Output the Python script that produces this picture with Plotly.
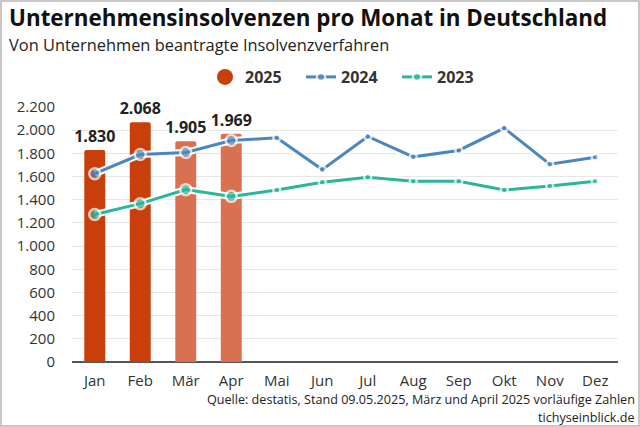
import plotly.graph_objects as go

months = ["Jan", "Feb", "Mär", "Apr", "Mai", "Jun", "Jul", "Aug", "Sep", "Okt", "Nov", "Dez"]
values_2025 = [1830, 2068, 1905, 1969]
values_2024 = [1625, 1790, 1808, 1911, 1934, 1660, 1946, 1770, 1825, 2018, 1706, 1767]
values_2023 = [1273, 1366, 1487, 1429, 1484, 1550, 1594, 1559, 1559, 1484, 1518, 1559]
y_ticks = [0, 200, 400, 600, 800, 1000, 1200, 1400, 1600, 1800, 2000, 2200]

# styles
W, H = 640, 427
ML, MR, MT, MB = 72, 22, 107, 65
PW, PH = W - ML - MR, H - MT - MB
FONT = "Open Sans"
TXT = "#222222"
C25_FINAL = "#C83F0C"
C25_PRELIM = "#D9704F"
BAR_COLORS = [C25_FINAL, C25_FINAL, C25_PRELIM, C25_PRELIM]
C24 = "#4B87BC"
C23 = "#2BB59A"


def px_x(px):
    return (px - ML) / PW


def px_y(py):
    return (H - MB - py) / PH


n_big = len(values_2025)
sizes = [11 if i < n_big else 7 for i in range(len(months))]
rings = [2.5 for _ in months]

fig = go.Figure()

fig.add_trace(go.Bar(
    x=months[:len(values_2025)], y=values_2025, name="2025",
    marker=dict(color=BAR_COLORS, line=dict(width=0), cornerradius=2),
    width=0.46,
    texttemplate="%{y:,d}", textposition="outside", constraintext="none",
    textfont=dict(family=FONT, size=16, color=TXT, weight="bold"),
    cliponaxis=False, showlegend=False, hoverinfo="skip",
))

for vals in (values_2024, values_2023):
    fig.add_trace(go.Scatter(
        x=months, y=vals, mode="lines", line=dict(color="white", width=7),
        showlegend=False, hoverinfo="skip",
    ))

for vals, col, name, rank in [(values_2024, C24, "2024", 2), (values_2023, C23, "2023", 3)]:
    fig.add_trace(go.Scatter(
        x=months, y=vals, mode="lines+markers", name=name,
        line=dict(color=col, width=3),
        marker=dict(color=col, size=sizes, line=dict(color="white", width=rings)),
        cliponaxis=False, legendrank=rank,
    ))

# legend-only entry for the bars (round symbol as in reference)
fig.add_trace(go.Scatter(
    x=[None], y=[None], mode="markers", name="2025",
    marker=dict(color=C25_FINAL, size=16, symbol="circle"),
    legendrank=1,
))

fig.update_layout(
    width=W, height=H,
    margin=dict(l=ML, r=MR, t=MT, b=MB, pad=0),
    paper_bgcolor="white", plot_bgcolor="white",
    separators=",.",
    font=dict(family=FONT, size=15, color=TXT),
    showlegend=True,
    legend=dict(
        orientation="h", x=px_x(349), xanchor="center", y=px_y(77), yanchor="middle",
        font=dict(family=FONT, size=16, color="#333333", weight="bold"),
        itemwidth=30, entrywidth=51, entrywidthmode="pixels",
        tracegroupgap=0, bgcolor="rgba(0,0,0,0)",
        traceorder="normal",
    ),
    xaxis=dict(
        categoryorder="array", categoryarray=months,
        range=[-0.5, len(months) - 0.5],
        showgrid=False, showline=False, zeroline=False,
        ticks="outside", ticklen=5, tickcolor="rgba(0,0,0,0)",
        tickfont=dict(family=FONT, size=15, color="#333333"),
        fixedrange=True,
    ),
    yaxis=dict(
        range=[0, 2200], tickvals=y_ticks, tickformat=",d",
        showgrid=True, gridcolor="#E6E6E6", gridwidth=1,
        zeroline=True, zerolinecolor="#555555", zerolinewidth=1.5,
        showline=False,
        ticks="outside", ticklen=13, tickcolor="rgba(0,0,0,0)",
        tickfont=dict(family=FONT, size=15, color="#333333"),
        fixedrange=True,
    ),
    annotations=[
        dict(text="<b>Unternehmensinsolvenzen pro Monat in Deutschland</b>",
             xref="paper", yref="paper", x=px_x(7), y=px_y(18),
             xanchor="left", yanchor="middle", showarrow=False,
             font=dict(family=FONT, size=22.4, color="#111111")),
        dict(text="Von Unternehmen beantragte Insolvenzverfahren",
             xref="paper", yref="paper", x=px_x(7), y=px_y(45),
             xanchor="left", yanchor="middle", showarrow=False,
             font=dict(family=FONT, size=16.4, color="#222222")),
        dict(text="Quelle: destatis, Stand 09.05.2025, März und April 2025 vorläufige Zahlen",
             xref="paper", yref="paper", x=px_x(636), y=px_y(399.5),
             xanchor="right", yanchor="middle", showarrow=False, borderpad=0,
             font=dict(family=FONT, size=12.6, color="#222222")),
        dict(text="tichyseinblick.de",
             xref="paper", yref="paper", x=px_x(636), y=px_y(417),
             xanchor="right", yanchor="middle", showarrow=False, borderpad=0,
             font=dict(family=FONT, size=12.6, color="#222222")),
    ],
    shapes=[
        dict(type="rect", xref="paper", yref="paper",
             x0=px_x(1), x1=px_x(W - 1), y0=px_y(H - 1), y1=px_y(1),
             line=dict(color="#C8C8C8", width=2), layer="above"),
    ],
)

fig.write_html(
    "out.html",
    config={"displayModeBar": False, "staticPlot": True},
    post_script="document.body.style.margin='0';document.body.style.padding='0';",
)
